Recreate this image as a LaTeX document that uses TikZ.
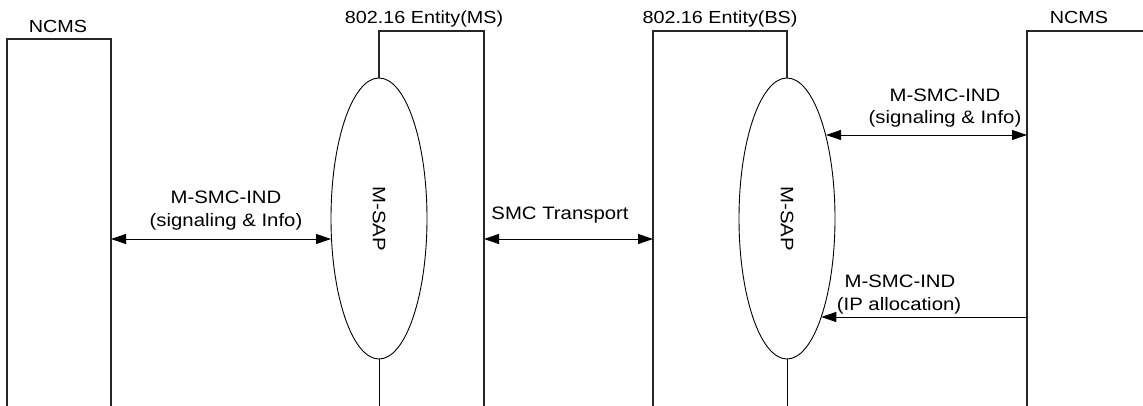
\documentclass[tikz,border=0pt]{standalone}
\usepackage{fontspec}
\setmainfont{Liberation Sans}[FakeStretch=1.13]
\usetikzlibrary{shapes.geometric,arrows.meta,calc}
\begin{document}
\begin{tikzpicture}[x=1pt,y=-1pt,
  boxline/.style={draw=black!85,line width=1.2pt},
  thinline/.style={draw=black,line width=0.9pt},
  sap/.style={ellipse,draw=black,line width=0.9pt,minimum width=96pt,minimum height=281pt,inner sep=0pt},
  lbl/.style={anchor=base,inner sep=0pt,font=\fontsize{18}{20}\selectfont},
  hdr/.style={anchor=base,inner sep=0pt,font=\fontsize{17.5}{20}\selectfont},
  msg/.style={thinline,{Triangle[length=15pt,width=10pt]}-{Triangle[length=15pt,width=10pt]}},
  msgone/.style={thinline,-{Triangle[length=15pt,width=10pt]}}]
\useasboundingbox (0,0) rectangle (1143,406);
% left NCMS
\coordinate (n1bl) at (7,406);
\coordinate (n1tl) at (7,39);
\coordinate (n1tr) at (111,39);
\coordinate (n1br) at (111,406);
\draw[boxline] (n1bl) -- (n1tl) -- (n1tr) -- (n1br);
\node[hdr] (n1lbl) at (58,33) {NCMS};
% MS entity
\node[sap] (sapA) at (379,218.5) {\rotatebox{-90}{\fontsize{18}{20}\selectfont M-SAP}};
\coordinate (mstl) at (379,31);
\coordinate (mstr) at (484,31);
\coordinate (msbr) at (484,406);
\coordinate (msbl) at (379,406);
\draw[boxline] (sapA.north) -- (mstl) -- (mstr) -- (msbr);
\draw[thinline] (sapA.south) -- (msbl);
\node[hdr] (mslbl) at (424,24) {802.16 Entity(MS)};
% BS entity
\node[sap] (sapB) at (787,218.5) {\rotatebox{-90}{\fontsize{18}{20}\selectfont M-SAP}};
\coordinate (bsbl) at (653,406);
\coordinate (bstl) at (653,31);
\coordinate (bstr) at (787,31);
\coordinate (bsbr) at (787,406);
\draw[boxline] (bsbl) -- (bstl) -- (bstr) -- (sapB.north);
\draw[thinline] (sapB.south) -- (bsbr);
\node[hdr] (bslbl) at (720,24) {802.16 Entity(BS)};
% right NCMS
\coordinate (n2bl) at (1027,406);
\coordinate (n2tl) at (1027,31);
\coordinate (n2tr) at (1143,31);
\draw[boxline] (n2bl) -- (n2tl) -- (n2tr);
\node[hdr] (n2lbl) at (1079,23.5) {NCMS};
% arrows
\coordinate (a1) at (111,239);
\draw[msg] (a1) -- (a1 -| sapA.203.9);
\node[lbl] (l1a) at (226,204) {M-SMC-IND};
\node[lbl] (l1b) at (226,226) {(signaling \& Info)};
\coordinate (a2) at (484,239);
\coordinate (a2e) at (653,239);
\draw[msg] (a2) -- (a2e);
\node[lbl] (l2) at (560,219) {SMC Transport};
\coordinate (a3) at (1027,135);
\draw[msg] (a3 -| sapB.65) -- (a3);
\node[lbl] (l3a) at (945,102) {M-SMC-IND};
\node[lbl] (l3b) at (945,124) {(signaling \& Info)};
\coordinate (a4) at (1027,317);
\draw[msgone] (a4) -- (a4 -| sapB.289);
\node[lbl] (l4a) at (900,287) {M-SMC-IND};
\node[lbl] (l4b) at (899,310) {(IP allocation)};
\end{tikzpicture}
\end{document}
